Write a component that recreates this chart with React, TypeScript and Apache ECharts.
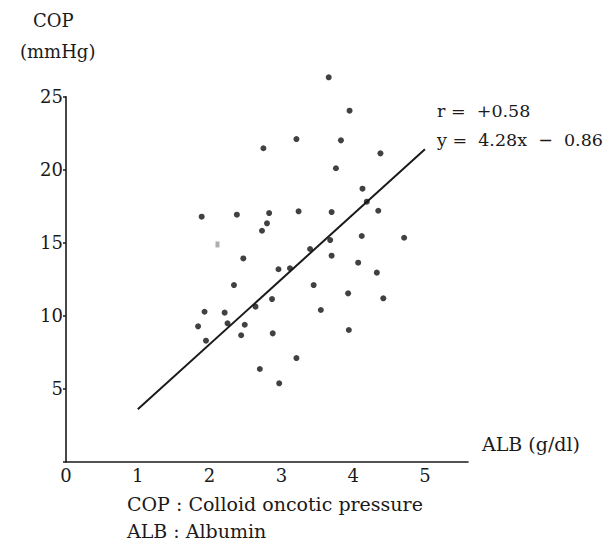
import React, { useEffect, useRef } from "react";
import * as echarts from "echarts";

// ALB (g/dl) values of each patient
const albValues: number[] = [
  3.66, 3.95, 3.21, 2.75, 3.83, 4.38, 3.76, 4.13, 4.19, 4.35,
  1.89, 2.38, 2.83, 2.8, 2.73, 3.24, 3.7, 4.12, 4.71, 3.68,
  3.4, 3.7, 2.47, 2.96, 3.12, 4.07, 4.33, 2.34, 3.45, 3.93,
  4.42, 2.87, 2.64, 3.55, 1.93, 2.21, 1.84, 2.25, 2.49, 2.44,
  2.88, 3.94, 1.95, 3.21, 2.7, 2.97,
];
// COP (mmHg) values of each patient
const copValues: number[] = [
  26.33, 24.04, 22.1, 21.47, 22.01, 21.12, 20.1, 18.7, 17.81, 17.19,
  16.78, 16.92, 17.03, 16.33, 15.82, 17.15, 17.1, 15.46, 15.34, 15.18,
  14.57, 14.11, 13.92, 13.18, 13.25, 13.63, 12.95, 12.1, 12.1, 11.53,
  11.19, 11.14, 10.62, 10.39, 10.27, 10.21, 9.27, 9.48, 9.38, 8.66,
  8.79, 9.02, 8.29, 7.1, 6.35, 5.37,
];
// faintly printed point
const faintAlb: number[] = [2.11];
const faintCop: number[] = [14.88];

// regression line end points as drawn (ALB, COP)
const lineAlb: number[] = [1.0, 5.0];
const lineCop: number[] = [3.59, 21.4];

const xTicks: number[] = [0, 1, 2, 3, 4, 5];
const yTicks: number[] = [5, 10, 15, 20, 25];

const FONT = "'DejaVu Serif', 'Liberation Serif', serif";
const INK = "#1a1a1a";

export default function App() {
  const ref = useRef<HTMLDivElement>(null);
  useEffect(() => {
    if (!ref.current) return;
    const chart = echarts.init(ref.current, undefined, { renderer: "svg" });
    const points = albValues.map((a, i) => [a, copValues[i]]);
    const faint = faintAlb.map((a, i) => [a, faintCop[i]]);
    const line = lineAlb.map((a, i) => [a, lineCop[i]]);
    chart.setOption({
      animation: false,
      backgroundColor: "#ffffff",
      grid: { left: 66, top: 96.7, width: 402, height: 365 },
      xAxis: {
        type: "value",
        min: 0,
        max: 5.6,
        interval: 1,
        axisLine: { lineStyle: { color: INK, width: 1.6 } },
        axisTick: { show: false },
        splitLine: { show: false },
        axisLabel: {
          margin: 5,
          color: INK,
          fontFamily: FONT,
          fontSize: 18,
          formatter: (v: number) => (xTicks.includes(v) ? String(v) : ""),
        },
      },
      yAxis: {
        type: "value",
        min: 0,
        max: 25,
        interval: 5,
        axisLine: { lineStyle: { color: INK, width: 1.6 } },
        axisTick: { show: true, length: 3, lineStyle: { color: INK, width: 1.5 } },
        splitLine: { show: false },
        axisLabel: {
          margin: 3,
          color: INK,
          fontFamily: FONT,
          fontSize: 18,
          formatter: (v: number) => (yTicks.includes(v) ? String(v) : ""),
        },
      },
      series: [
        {
          type: "line",
          data: line,
          symbol: "none",
          lineStyle: { color: INK, width: 2 },
          z: 2,
        },
        {
          type: "scatter",
          data: points,
          symbolSize: 6,
          clip: false,
          itemStyle: { color: "#111" },
          z: 3,
        },
        {
          type: "scatter",
          data: faint,
          symbol: "rect",
          symbolSize: [4, 6],
          clip: false,
          itemStyle: { color: "#9a9a9a" },
          z: 3,
        },
      ],
      graphic: [
        { type: "text", left: 33, top: 11, style: { text: "COP", font: `18px ${FONT}`, fill: INK } },
        { type: "text", left: 20, top: 42, style: { text: "(mmHg)", font: `18px ${FONT}`, fill: INK } },
        { type: "text", left: 437, top: 102, style: { text: "r =  +0.58", font: `17.5px ${FONT}`, fill: INK } },
        { type: "text", left: 437, top: 131, style: { text: "y =  4.28x  −  0.86", font: `17.5px ${FONT}`, fill: INK } },
        { type: "text", left: 482, top: 434, style: { text: "ALB (g/dl)", font: `19px ${FONT}`, fill: INK } },
        { type: "text", left: 127, top: 494, style: { text: "COP : Colloid oncotic pressure", font: `19px ${FONT}`, fill: INK } },
        { type: "text", left: 127, top: 521, style: { text: "ALB : Albumin", font: `19px ${FONT}`, fill: INK } },
      ],
    });
    return () => chart.dispose();
  }, []);
  return (
    <div
      ref={ref}
      style={{ position: "absolute", left: 0, top: 0, width: 613, height: 545 }}
    />
  );
}
